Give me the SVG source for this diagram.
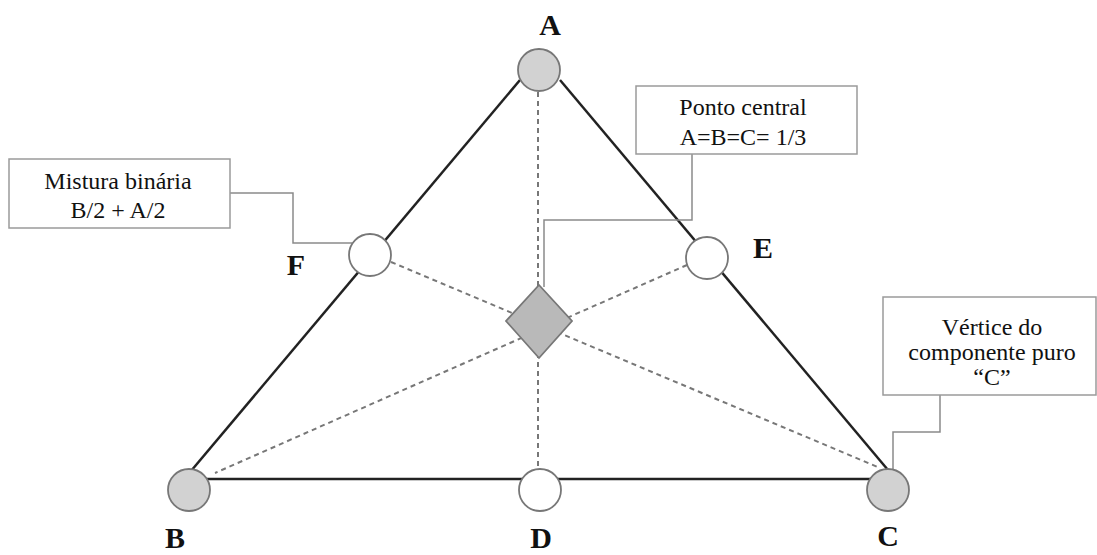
<svg xmlns="http://www.w3.org/2000/svg" width="1097" height="555" viewBox="0 0 1097 555">
<style>
.edge{stroke:#222;stroke-width:2.5;fill:none}
.dash{stroke:#777;stroke-width:2;stroke-dasharray:5 4;fill:none}
.call{stroke:#8a8a8a;stroke-width:1.5;fill:none}
.box{fill:#fff;stroke:#9a9a9a;stroke-width:1.5}
.vtx{fill:#d2d2d2;stroke:#777;stroke-width:1.8}
.mid{fill:#fff;stroke:#777;stroke-width:1.8}
.lbl{font-family:'Liberation Serif',serif;font-weight:bold;font-size:30px;fill:#111;text-anchor:middle}
.txt{font-family:'Liberation Serif',serif;font-weight:normal;font-size:24px;fill:#111;text-anchor:middle}
</style>
<rect width="1097" height="555" fill="#fff"/>
<g id="connectors">
<line class="edge" x1="520" y1="80" x2="191" y2="471"/>
<line class="edge" x1="560" y1="80" x2="888" y2="470"/>
<line class="edge" x1="200" y1="479" x2="880" y2="479"/>
<line class="dash" x1="538" y1="92" x2="538" y2="469"/>
<line class="dash" x1="391" y1="262" x2="880" y2="468"/>
<line class="dash" x1="687" y1="265" x2="215" y2="473"/>
<polyline class="call" points="230,193 293,193 293,243 352,243"/>
<polyline class="call" points="692,154 692,220 544,220 544,287"/>
<polyline class="call" points="940,395 940,432 893,432 893,470"/>
</g>
<g id="node-A"><circle class="vtx" cx="539" cy="70" r="21"/><text class="lbl" x="550" y="35">A</text></g>
<g id="node-B"><circle class="vtx" cx="189" cy="490" r="21"/><text class="lbl" x="175" y="548">B</text></g>
<g id="node-C"><circle class="vtx" cx="888" cy="490" r="21"/><text class="lbl" x="888" y="546">C</text></g>
<g id="node-D"><circle class="mid" cx="540" cy="490" r="21"/><text class="lbl" x="541" y="548">D</text></g>
<g id="node-E"><circle class="mid" cx="707" cy="258" r="21"/><text class="lbl" x="763" y="258">E</text></g>
<g id="node-F"><circle class="mid" cx="370" cy="255" r="21"/><text class="lbl" x="296" y="275">F</text></g>
<g id="node-center"><polygon points="539,285 572,321 539,358 506,321" fill="#b9b9b9" stroke="#777" stroke-width="1.8"/></g>
<g id="box-mistura"><rect class="box" x="9" y="159" width="221" height="69"/><text class="txt" x="118" y="189">Mistura binária</text><text class="txt" x="118" y="218">B/2 + A/2</text></g>
<g id="box-ponto"><rect class="box" x="636" y="86" width="221" height="68"/><text class="txt" x="743" y="115">Ponto central</text><text class="txt" x="743" y="145">A=B=C= 1/3</text></g>
<g id="box-vertice"><rect class="box" x="883" y="297" width="213" height="98"/><text class="txt" x="992" y="335">Vértice do</text><text class="txt" x="992" y="360">componente puro</text><text class="txt" x="992" y="385">“C”</text></g>
</svg>
